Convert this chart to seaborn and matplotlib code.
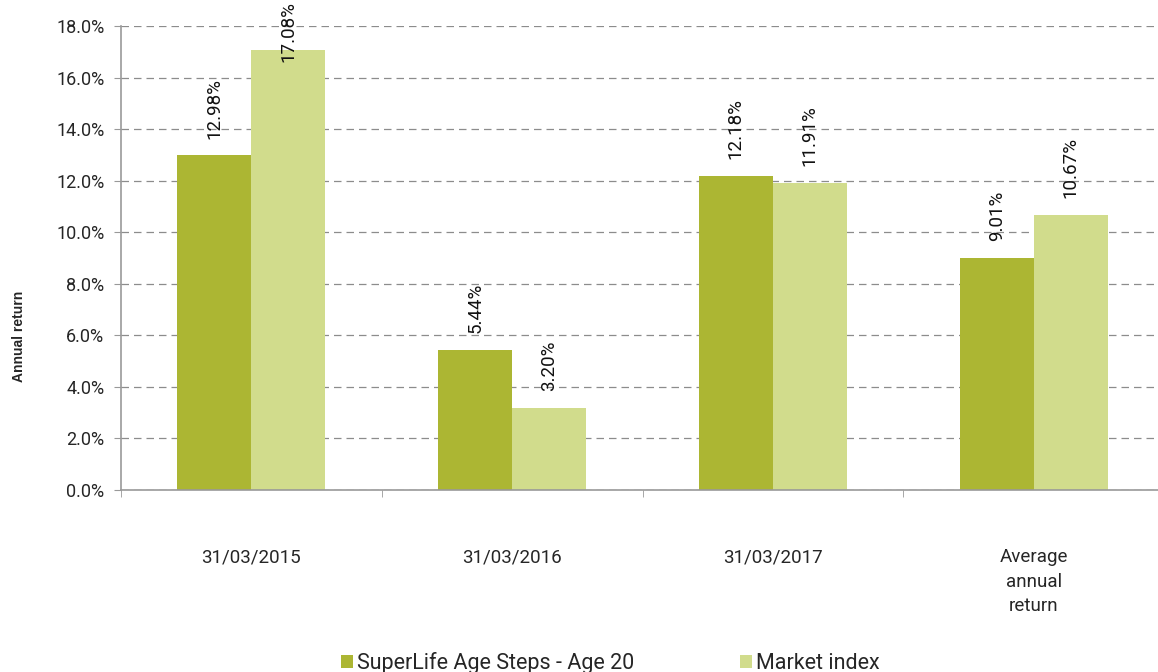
import pandas as pd
import seaborn as sns
import matplotlib.pyplot as plt
from matplotlib.ticker import FixedLocator, FuncFormatter

periods = ['31/03/2015', '31/03/2016', '31/03/2017', 'Average\nannual\nreturn']
superlife = [12.98, 5.44, 12.18, 9.01]
market = [17.08, 3.20, 11.91, 10.67]
series_names = ['SuperLife Age Steps - Age 20', 'Market index']
colors = ['#acb633', '#d1dc8c']

df = pd.DataFrame({
    'period': periods * 2,
    'value': superlife + market,
    'series': [series_names[0]] * 4 + [series_names[1]] * 4,
})

sns.set_style('white')
plt.rcParams['font.family'] = ['Roboto', 'DejaVu Sans']

fig = plt.figure(figsize=(11.58, 6.72), dpi=100)
ax = fig.add_axes([0.1045, 0.2708, 0.9007, 0.6905])

sns.barplot(data=df, x='period', y='value', hue='series', palette=colors,
            width=0.567, saturation=1, linewidth=0, ax=ax, legend=True)

bar_texts = []
for container in ax.containers:
    bar_texts += ax.bar_label(container, labels=['%.2f%%' % v for v in container.datavalues],
                              rotation=90, padding=12, fontsize=13.5, color='#111111')

ax.set_ylim(0, 18)
ax.set_xlim(-0.5, 3.5)
ax.set_yticks([0, 2, 4, 6, 8, 10, 12, 14, 16, 18])
ax.yaxis.set_major_formatter(FuncFormatter(lambda v, p: '%.1f%%' % v))
ax.yaxis.grid(True, linestyle=(0, (6, 4)), color='#8c8c8c', linewidth=0.9)
ax.set_axisbelow(True)

ax.xaxis.set_minor_locator(FixedLocator([-0.5, 0.5, 1.5, 2.5, 3.5]))
ax.tick_params(axis='x', which='major', length=0, pad=42, labelsize=13.5)
ax.tick_params(axis='x', which='minor', length=5, color='#999999', direction='out', bottom=True)
ax.tick_params(axis='y', length=5, color='#999999', direction='out', left=True, labelsize=13, pad=7)
for lbl in ax.get_xticklabels():
    lbl.set_linespacing(1.45)

for s in ['top', 'right']:
    ax.spines[s].set_visible(False)
for s in ['left', 'bottom']:
    ax.spines[s].set_color('#999999')
    ax.spines[s].set_linewidth(1.2)

ax.set_xlabel('')
ax.set_ylabel('')
fig.text(19 / 1158, 1 - 336 / 672, 'Annual return', rotation=90, ha='center', va='center',
         fontsize=10, fontweight='bold', family=['Liberation Sans', 'DejaVu Sans'])

handles, labels = ax.get_legend_handles_labels()
ax.get_legend().remove()
fig.legend(handles, labels, loc='center', bbox_to_anchor=(0.527, 9 / 672), ncol=2,
           frameon=False, fontsize=15.5, handlelength=0.56, handleheight=0.56,
           handletextpad=0.2, columnspacing=4.9, borderpad=0)

# labels that run past the top of the figure are pushed down to fit, as in the original
fig.canvas.draw()
renderer = fig.canvas.get_renderer()
for t in bar_texts:
    over = t.get_window_extent(renderer).y1 - fig.bbox.height
    if over > 0:
        x, y = t.xyann
        t.xyann = (x, y - over * 72 / fig.dpi - 1)

fig.savefig('out.png', dpi=100)
